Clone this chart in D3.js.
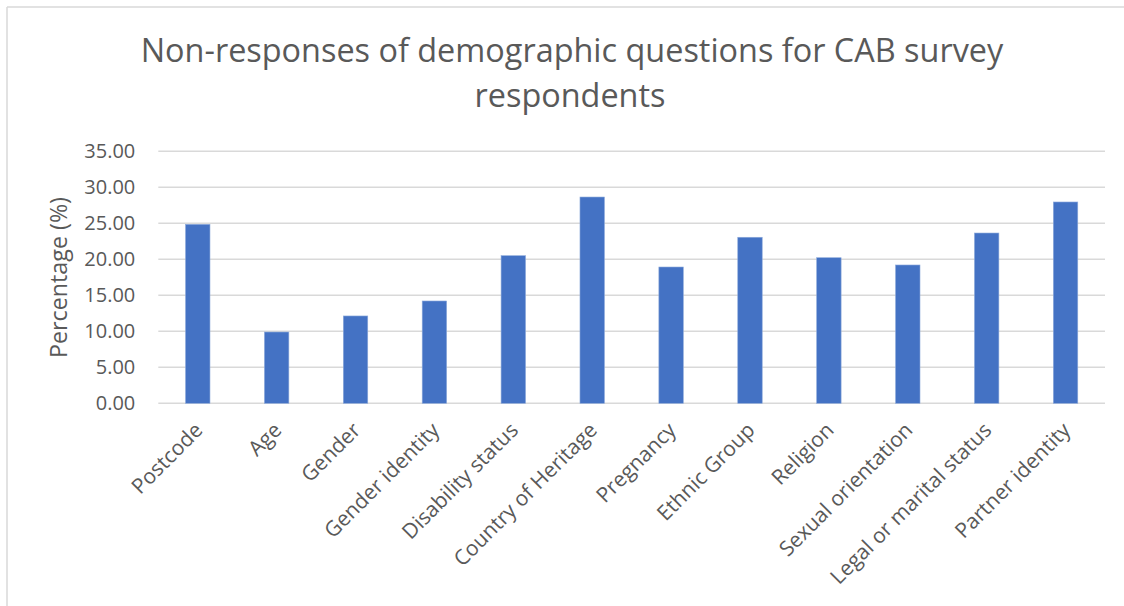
<!DOCTYPE html>
<html>
<head>
<meta charset="utf-8">
<script src="https://cdn.jsdelivr.net/npm/d3@7"></script>
<style>
  html, body { margin: 0; padding: 0; background: #fff; }
  svg { display: block; }
  text { font-family: "Open Sans", "Noto Sans", sans-serif; fill: #595959; }
</style>
</head>
<body>
<svg id="chart" width="1124" height="606"></svg>
<script>
// Demographic questions and share of survey respondents who left them blank (%)
const categories = [
  "Postcode", "Age", "Gender", "Gender identity", "Disability status",
  "Country of Heritage", "Pregnancy", "Ethnic Group", "Religion",
  "Sexual orientation", "Legal or marital status", "Partner identity"
];
const nonResponse = [24.86, 9.90, 12.13, 14.21, 20.50, 28.65, 18.93, 23.06, 20.22, 19.21, 23.65, 27.96];
const yTicks = [0, 5, 10, 15, 20, 25, 30, 35];
const titleLines = ["Non-responses of demographic questions for CAB survey", "respondents"];
const yTitle = "Percentage (%)";

const W = 1124, H = 606;
const plot = { left: 158.3, right: 1105, top: 151.3, bottom: 403.3 };
const svg = d3.select("#chart");

// chart area frame (only top and left edges are visible)
svg.append("line").attr("x1", 7).attr("x2", W).attr("y1", 7).attr("y2", 7)
  .attr("stroke", "#d9d9d9").attr("stroke-width", 1.5);
svg.append("line").attr("x1", 7).attr("x2", 7).attr("y1", 7).attr("y2", H)
  .attr("stroke", "#d9d9d9").attr("stroke-width", 1.5);

const x = d3.scaleBand().domain(categories)
  .range([plot.left, plot.right]).paddingInner(0.69).paddingOuter(0.345);
const y = d3.scaleLinear().domain([0, 35]).range([plot.bottom, plot.top]);

// horizontal gridlines
svg.append("g").selectAll("line").data(yTicks).join("line")
  .attr("x1", plot.left).attr("x2", plot.right)
  .attr("y1", d => y(d)).attr("y2", d => y(d))
  .attr("stroke", "#d9d9d9").attr("stroke-width", 1.5);

// y axis labels
const yAxis = d3.axisLeft(y).tickValues(yTicks).tickFormat(d3.format(".2f")).tickSize(0).tickPadding(0);
const gy = svg.append("g").attr("transform", `translate(${plot.left - 23},0)`).call(yAxis);
gy.select(".domain").remove();
gy.selectAll("text").style("font-size", "20px").style("fill", "#595959")
  .style("font-family", '"Open Sans", sans-serif');

// bars
svg.append("g").selectAll("rect").data(categories).join("rect")
  .attr("x", d => x(d))
  .attr("width", x.bandwidth())
  .attr("y", (d, i) => y(nonResponse[i]))
  .attr("height", (d, i) => y(0) - y(nonResponse[i]))
  .attr("fill", "#4472c4")
  .attr("stroke", "#8eaadb").attr("stroke-width", 0.6);

// x axis labels, rotated
const gx = svg.append("g").attr("transform", `translate(0,${plot.bottom})`)
  .call(d3.axisBottom(x).tickSize(0).tickPadding(0));
gx.select(".domain").remove();
gx.selectAll("text")
  .style("font-size", "21px").style("fill", "#595959")
  .style("font-family", '"Open Sans", sans-serif')
  .attr("text-anchor", "end")
  .attr("y", 0).attr("dy", "0.35em")
  .attr("transform", "translate(1,23) rotate(-45)");

// y axis title, sized to its intended length
const yt = svg.append("text")
  .attr("transform", "translate(59,277.5) rotate(-90)")
  .attr("text-anchor", "middle").attr("dy", "0.35em")
  .style("font-size", "20px")
  .text(yTitle);
yt.style("font-size", (20 * 161 / yt.node().getComputedTextLength()) + "px");

// title, sized so the first line spans the intended width
const titleG = svg.append("g");
const t1 = titleG.append("text").attr("x", 572).attr("y", 62)
  .attr("text-anchor", "middle").style("font-size", "30px").text(titleLines[0]);
const w1 = t1.node().getComputedTextLength();
const fs = 30 * 863 / w1;
t1.style("font-size", fs + "px");
titleG.append("text").attr("x", 570).attr("y", 107)
  .attr("text-anchor", "middle").style("font-size", fs + "px").text(titleLines[1]);
</script>
</body>
</html>
